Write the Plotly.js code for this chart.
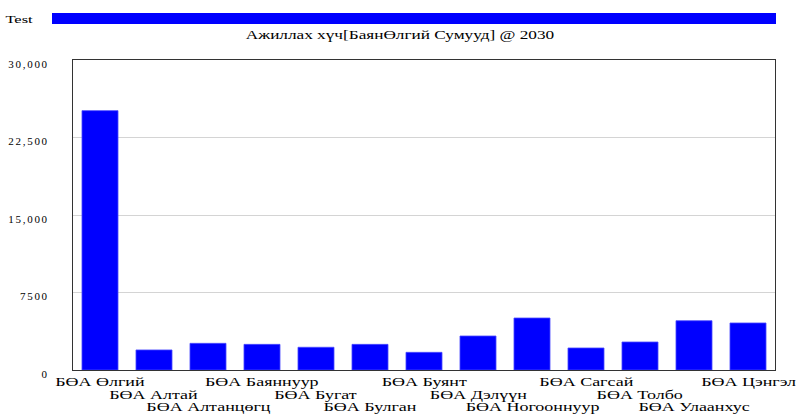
<!DOCTYPE html>
<html>
<head>
<meta charset="utf-8">
<script src="https://cdn.plot.ly/plotly-3.0.1.min.js"></script>
<style>
  html, body { margin: 0; padding: 0; background: #fff; }
  #chart { width: 800px; height: 415px; }
  /* the reference's lettering is horizontally stretched */
  #chart svg .annotation-text,
  #chart svg .gtitle {
    transform-box: fill-box;
    transform-origin: center;
    transform: scaleX(1.5);
  }
  #chart svg .ytick text { letter-spacing: 1.7px; }
</style>
</head>
<body>
<div id="chart"></div>
<script>
// ---- data ----
const categories = ["БӨА Өлгий","БӨА Алтай","БӨА Алтанцөгц","БӨА Баяннуур","БӨА Бугат","БӨА Булган","БӨА Буянт","БӨА Дэлүүн","БӨА Ногооннуур","БӨА Сагсай","БӨА Толбо","БӨА Улаанхус","БӨА Цэнгэл"];
const values = [25100, 1940, 2580, 2480, 2200, 2480, 1710, 3290, 5030, 2130, 2710, 4770, 4550];
const seriesName = "Test";
const chartTitle = "Ажиллах хүч[БаянӨлгий Сумууд] @ 2030";
const yTickVals = [0, 7500, 15000, 22500, 30000];
const yTickText = ["0", "7500", "15,000", "22,500", "30,000"];

const FONT = "'Liberation Serif', 'Times New Roman', Times, serif";

// staggered category labels (3 rows)
const rowShift = [-12, -24.5, -37];
const labelAnns = categories.map((c, i) => ({
  x: c, xref: 'x', y: 0, yref: 'paper',
  text: c, showarrow: false,
  xanchor: 'center', yanchor: 'middle',
  yshift: rowShift[i % 3],
  font: {family: FONT, size: 12, color: '#000'}
}));

const trace = {
  type: 'bar', x: categories, y: values, name: seriesName,
  marker: {color: '#0000ff', line: {color: '#4a4aff', width: 0.8}},
  hoverinfo: 'x+y'
};

const layout = {
  width: 800, height: 415,
  margin: {l: 73, r: 25, t: 60, b: 45},
  paper_bgcolor: '#fff', plot_bgcolor: '#fff',
  showlegend: false,
  bargap: 0.333,
  title: {
    text: chartTitle,
    x: 0.5, xref: 'container', xanchor: 'center',
    y: 1 - 35 / 415, yref: 'container', yanchor: 'middle',
    font: {family: FONT, size: 11.5, color: '#000'}
  },
  xaxis: {
    type: 'category',
    range: [-0.5, categories.length - 0.5],
    autorange: false,
    showticklabels: false, ticks: '', showgrid: false,
    showline: true, mirror: true, linecolor: '#333', linewidth: 1, zeroline: false,
    automargin: false
  },
  yaxis: {
    range: [0, 30000], autorange: false,
    tickvals: yTickVals, ticktext: yTickText, ticks: '',
    ticklabelstandoff: 21, ticklabelshift: 4,
    showgrid: true, gridcolor: '#d4d4d4', gridwidth: 1,
    showline: true, mirror: true, linecolor: '#333', linewidth: 1, zeroline: false,
    automargin: false,
    tickfont: {family: FONT, size: 11, color: '#000'}
  },
  shapes: [{
    type: 'rect', xref: 'paper', yref: 'paper',
    x0: (52 - 73) / 702, x1: (776 - 73) / 702,
    y0: 1 + (60 - 24) / 310, y1: 1 + (60 - 13) / 310,
    fillcolor: '#0000ff', line: {width: 0}
  }],
  annotations: [{
    text: seriesName, xref: 'paper', yref: 'paper',
    x: (8 - 73) / 702, y: 1 + (60 - 18.5) / 310,
    xanchor: 'left', yanchor: 'middle', showarrow: false,
    font: {family: FONT, size: 11, color: '#000'}
  }].concat(labelAnns)
};

Plotly.newPlot('chart', [trace], layout, {displayModeBar: false, staticPlot: true});
</script>
</body>
</html>
